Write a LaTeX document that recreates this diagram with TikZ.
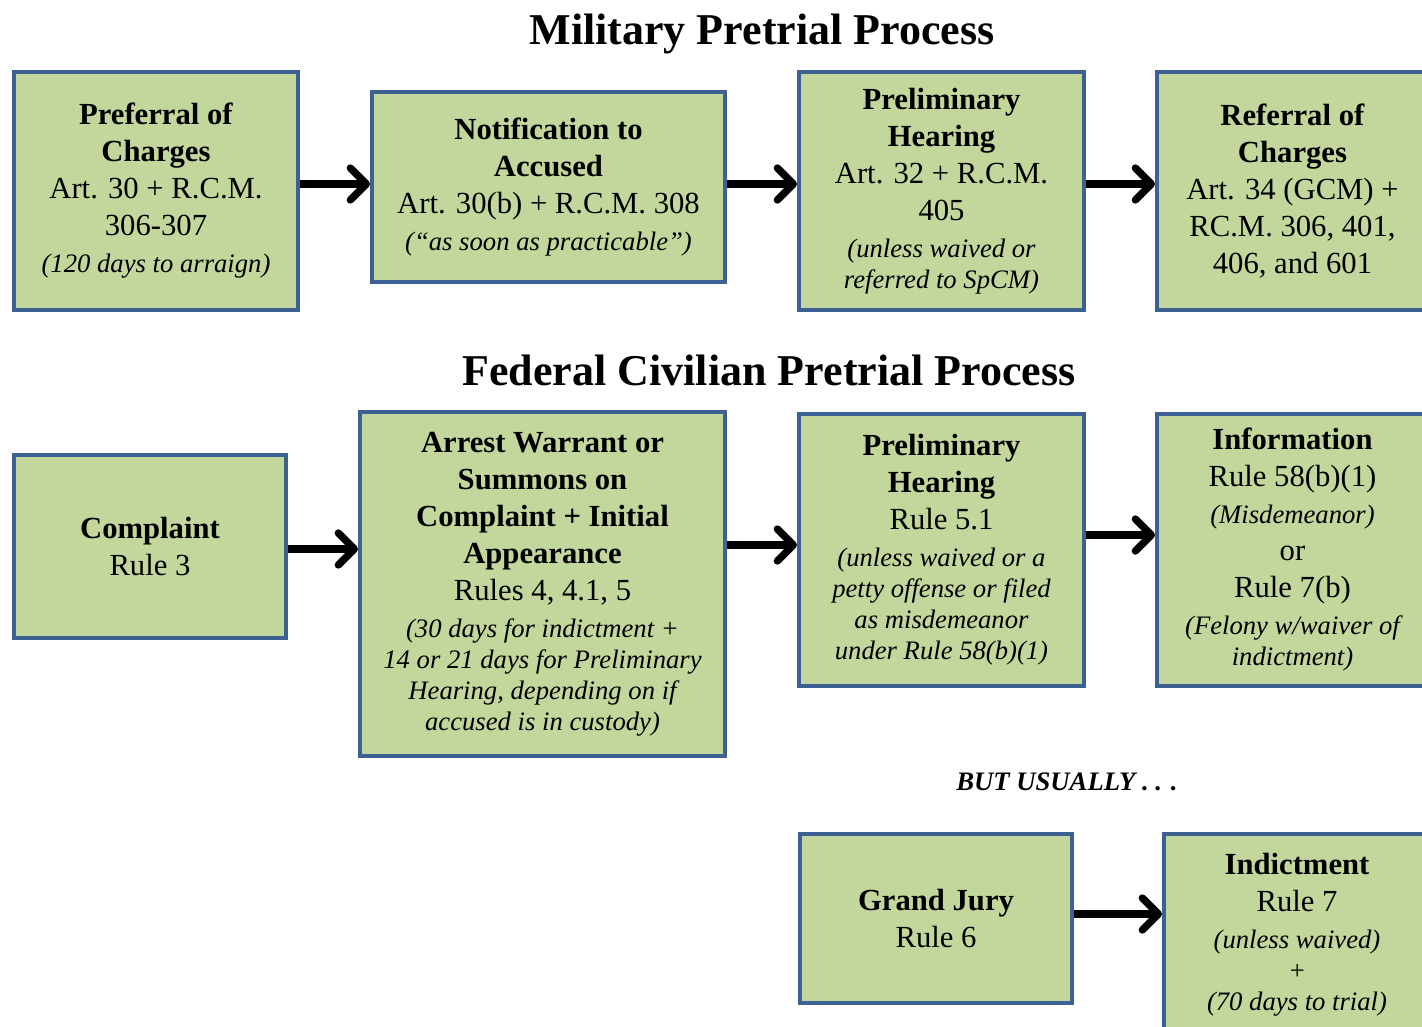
\documentclass[tikz,border=0pt]{standalone}
\usepackage{fontspec}
\setmainfont{Liberation Serif}
\usetikzlibrary{arrows.meta}
\definecolor{fillc}{HTML}{C3D69B}
\definecolor{bordc}{HTML}{3C6192}
\newcommand\ital{\fontsize{20}{23.25}\selectfont\itshape}
\newcommand\bx[6]{\node[box, minimum width={(#4-#2)*0.75pt}, minimum height={(#5-#3)*0.75pt}] (#1) at ({(#2+#4)/2},{(#3+#5)/2}) {#6};}
\begin{document}
\begin{tikzpicture}[x=0.75pt,y=-0.75pt,
  box/.style={draw=bordc, fill=fillc, line width=3pt, align=center, inner sep=0pt,
    font=\fontsize{23}{27.75}\selectfont},
  ttl/.style={font=\fontsize{33}{38}\selectfont\bfseries, inner sep=0pt},
  arr/.style={line width=5.5pt, -{Straight Barb[length=12pt,width=24pt,round]}}]
\useasboundingbox (0,0) rectangle (1422,1027);
\node[ttl] (t1) at (762,34) {Military Pretrial Process};
\node[ttl] (t2) at (769,370) {Federal Civilian Pretrial Process};
\node[font=\fontsize{20}{24}\selectfont\bfseries\itshape, inner sep=0pt] (bu) at (1067,782) {BUT USUALLY . . .};
% Row 1
\bx{B1}{14}{72}{298}{310}{\textbf{Preferral of}\\\textbf{Charges}\\Art. 30 + R.C.M.\\306-307\\\ital (120 days to arraign)}
\bx{B2}{372}{92}{725}{282}{\textbf{Notification to}\\\textbf{Accused}\\Art. 30(b) + R.C.M. 308\\\ital (“as soon as practicable”)}
\bx{B3}{799}{72}{1084}{310}{\textbf{Preliminary}\\\textbf{Hearing}\\Art. 32 + R.C.M.\\405\\\ital (unless waived or\\[-4.5pt]\ital referred to SpCM)}
\bx{B4}{1157}{72}{1428}{310}{\textbf{Referral of}\\\textbf{Charges}\\Art. 34 (GCM) +\\RC.M. 306, 401,\\406, and 601}
% Row 2
\bx{C1}{14}{455}{286}{638}{\textbf{Complaint}\\Rule 3}
\bx{C2}{360}{412}{725}{756}{\textbf{Arrest Warrant or}\\\textbf{Summons on}\\\textbf{Complaint + Initial}\\\textbf{Appearance}\\Rules 4, 4.1, 5\\\ital (30 days for indictment +\\[-4.5pt]\ital 14 or 21 days for Preliminary\\[-4.5pt]\ital Hearing, depending on if\\[-4.5pt]\ital accused is in custody)}
\bx{C3}{799}{414}{1084}{686}{\textbf{Preliminary}\\\textbf{Hearing}\\Rule 5.1\\\ital (unless waived or a\\[-4.5pt]\ital petty offense or filed\\[-4.5pt]\ital as misdemeanor\\[-4.5pt]\ital under Rule 58(b)(1)}
\bx{C4}{1157}{414}{1428}{686}{\textbf{Information}\\Rule 58(b)(1)\\\ital (Misdemeanor)\\or\\Rule 7(b)\\\ital (Felony w/waiver of\\[-4.5pt]\ital indictment)}
% Row 3
\bx{D1}{800}{834}{1072}{1003}{\textbf{Grand Jury}\\Rule 6}
\bx{D2}{1164}{834}{1430}{1036}{\textbf{Indictment}\\Rule 7\\\ital (unless waived)\\[-4.5pt]\ital +\\[-4.5pt]\ital (70 days to trial)}
% arrows
\coordinate (r1) at (0,184);
\coordinate (r2) at (0,549);
\coordinate (r3) at (0,545);
\coordinate (r4) at (0,535);
\coordinate (r5) at (0,914);
\draw[arr] (B1.east |- r1) -- (B2.west |- r1);
\draw[arr] (B2.east |- r1) -- (B3.west |- r1);
\draw[arr] (B3.east |- r1) -- (B4.west |- r1);
\draw[arr] (C1.east |- r2) -- (C2.west |- r2);
\draw[arr] (C2.east |- r3) -- (C3.west |- r3);
\draw[arr] (C3.east |- r4) -- (C4.west |- r4);
\draw[arr] (D1.east |- r5) -- (D2.west |- r5);
\end{tikzpicture}
\end{document}
